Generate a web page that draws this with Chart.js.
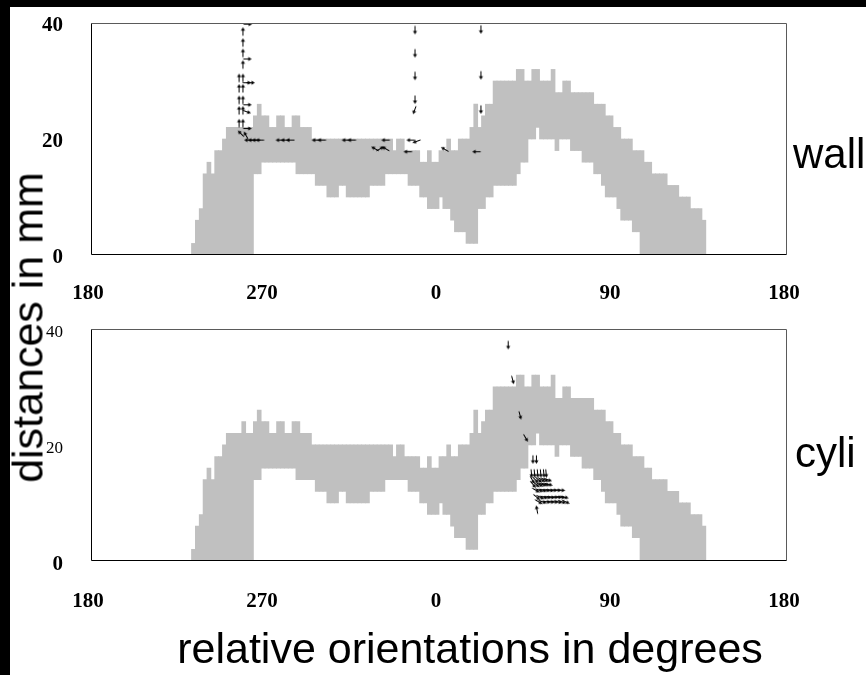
<!DOCTYPE html>
<html><head><meta charset="utf-8">
<script src="https://cdn.jsdelivr.net/npm/chart.js@4.4.1/dist/chart.umd.min.js"></script>
<style>
html,body{margin:0;padding:0;background:#fff;width:866px;height:675px;overflow:hidden;position:relative;}
.strip{position:absolute;background:#000;}
.lbl{position:absolute;font-family:"Liberation Sans",Arial,sans-serif;font-size:42px;line-height:1;white-space:nowrap;color:#000;}
canvas{position:absolute;left:0;}
</style></head><body>
<div class="strip" style="left:0;top:0;width:866px;height:7px"></div>
<div class="strip" style="left:0;top:0;width:10px;height:675px"></div>
<canvas id="c1" width="866" height="310" style="top:0;width:866px;height:310px"></canvas>
<canvas id="c2" width="866" height="365" style="top:310px;width:866px;height:365px"></canvas>
<div class="lbl" style="left:-171.9px;top:306px;width:400px;height:43px;font-size:43px;text-align:center;transform:rotate(-90deg)">distances in mm</div>
<div class="lbl" style="left:70px;top:626.5px;width:800px;font-size:43px;text-align:center">relative orientations in degrees</div>
<div class="lbl" style="left:793px;top:133px">wall</div>
<div class="lbl" style="left:795px;top:431.5px">cyli</div>
<script>
// ---- data ----
const xTickValues = [-180, -90, 0, 90, 180];
const xTickLabels = ['180', '270', '0', '90', '180'];
const yTickValues = [0, 20, 40];

const bandAngles = [
 -127,-125,-123,-121,-119,-117,-115,-113,-111,-109,
 -107,-105,-103,-101,-99,-97,-95,-93,-91,-89,
 -87,-85,-83,-81,-79,-77,-75,-73,-71,-69,
 -67,-65,-63,-61,-59,-57,-55,-53,-51,-49,
 -47,-45,-43,-41,-39,-37,-35,-33,-31,-29,
 -27,-25,-23,-21,-19,-17,-15,-13,-11,-9,
 -7,-5,-3,-1,1,3,5,7,9,11,
 13,15,17,19,21,23,25,27,29,31,
 33,35,37,39,41,43,45,47,49,51,
 53,55,57,59,61,63,65,67,69,71,
 73,75,77,79,81,83,85,87,89,91,
 93,95,97,99,101,103,105,107,109,111,
 113,115,117,119,121,123,125,127,129,131,
 133,135,137];

const wallHigh = [
 2,6,8,14,16,14,18,18,20,22,
 22,22,22,22,22,22,24,26,24,24,
 22,22,24,24,22,22,24,24,22,22,
 22,20,20,20,20,20,20,20,20,20,
 20,20,20,20,20,20,20,20,20,20,
 20,20,18,20,20,18,18,18,18,16,
 16,18,16,16,18,18,20,18,18,20,
 20,20,22,26,22,24,26,26,30,30,
 30,30,30,30,32,32,30,30,32,32,
 30,30,30,32,28,28,30,30,28,28,
 28,28,28,28,26,26,26,24,24,22,
 22,20,20,20,18,18,18,16,16,14,
 14,14,14,12,12,12,10,10,10,8,
 8,8,6];
const wallLow = [
 0,0,0,0,0,0,0,0,0,0,
 0,0,0,0,0,0,14,14,16,16,
 16,16,16,16,16,16,16,14,14,14,
 14,14,12,12,12,10,10,10,12,12,
 10,10,10,10,10,10,12,12,12,12,
 14,14,14,14,14,14,12,12,12,10,
 10,8,8,8,10,8,8,6,4,4,
 4,2,2,2,8,8,10,10,12,12,
 12,12,12,12,14,16,16,20,20,22,
 20,20,20,20,18,20,20,20,18,18,
 18,16,16,16,14,14,12,10,10,10,
 8,6,6,6,4,4,0,0,0,0,
 0,0,0,0,0,0,0,0,0,0,
 0,0,0];

const cylHigh = [
 2,6,8,14,16,14,18,18,20,22,
 22,22,22,24,22,22,24,26,24,24,
 22,22,24,24,22,22,24,24,22,22,
 22,20,20,20,20,20,20,20,20,20,
 20,20,20,20,20,20,20,20,20,20,
 20,20,18,20,20,18,18,18,18,16,
 16,18,16,16,18,18,20,18,18,20,
 20,20,22,26,22,24,26,26,30,30,
 30,30,30,30,32,32,30,30,32,32,
 30,30,30,32,28,28,30,30,28,28,
 28,28,28,28,26,26,26,24,24,22,
 22,20,20,20,18,18,18,16,16,14,
 14,14,14,12,12,12,10,10,10,8,
 8,8,6];
const cylLow = [
 0,0,0,0,0,0,0,0,0,0,
 0,0,0,0,0,0,14,14,16,16,
 16,16,16,16,16,16,16,14,14,14,
 14,14,12,12,12,10,10,10,12,12,
 10,10,10,10,10,10,12,12,12,12,
 14,14,14,14,14,14,12,12,12,10,
 10,8,8,8,10,8,8,6,4,4,
 4,2,2,2,8,8,10,10,12,12,
 12,12,12,12,14,16,16,20,20,22,
 20,20,20,20,18,20,20,20,18,18,
 18,16,16,16,14,14,12,10,10,10,
 8,6,6,6,4,4,0,0,0,0,
 0,0,0,0,0,0,0,0,0,0,
 0,0,0];

// arrows: angle (deg), distance (mm), pointing direction (deg, counter-clockwise from right)
const wallArrowX = [
 -99,-101.4,-101.4,-101.4,-99.2,-101.4,-103.4,-101.4,-99.5,-97.5,
 -103.4,-101.4,-103.4,-101.4,-99.2,-103.4,-101.4,-99.5,-103.4,-101.4,
 -99.2,-102.4,-99.8,
 -98.5,-96.5,-94.5,-92.5,-82.2,-79.5,-76.8,-63.5,-60.5,-48,-45,-27.5,-14.5,-11.5,
 -33,-30.5,-27.5,-16,
 -12.4,-12.4,-12.4,-12.4,-12.6,
 21.7,21.7,21.7,
 3.1,19.5];
const wallArrowY = [
 39.8,38.5,36.6,34.8,33.8,32.8,30.5,30.5,29.7,29.7,
 28.7,28.7,26.7,26.7,25.9,24.9,24.9,24.7,22.7,22.7,
 21.8,20.9,20.6,
 19.8,19.8,19.8,19.8,19.8,19.8,19.8,19.8,19.8,19.8,19.8,19.8,19.8,19.6,
 18.3,18.3,18.3,17.8,
 38.8,34.8,30.9,26.8,25.0,
 38.9,31.0,25.1,
 18.2,17.8];
const wallArrowDir = [
 0,90,90,90,0,90,90,90,0,0,
 90,90,90,90,0,90,90,-20,90,90,
 0,135,120,
 180,180,180,180,180,180,180,180,180,180,180,180,180,200,
 150,30,150,180,
 270,270,270,270,250,
 270,270,270,
 150,180];

const cylArrowX = [
 35.8,38.1,41.9,44.8,
 48.6,50.4,
 47.8,49.4,51,52.6,54.2,55.4,
 48.2,49.8,51.4,53,54.6,56.2,
 48.6,50.2,51.8,53.4,55,56.6,
 50,51.8,53.6,55.4,57.2,59,61,63,
 50.5,52.3,54.1,55.9,57.7,59.5,61.3,63.1,64.8,
 51.5,53.5,55.5,57.5,59.5,61.5,63.5,65.5,
 50.7];
const cylArrowY = [
 37.2,31.2,25.1,21.2,
 17.5,17.5,
 15.1,15.1,15.1,15.1,15.1,15.1,
 14,14,14,14,14,14,
 13.2,13.2,13.2,13.2,13.2,13.2,
 12.2,12.2,12.2,12.2,12.2,12.2,12.2,12.2,
 11,11,11,11,11,11,11,11,11,
 10.2,10.2,10.2,10.2,10.2,10.2,10.2,10.2,
 8.8];
const cylArrowDir = [
 270,285,285,300,
 270,270,
 275,275,275,275,275,275,
 300,315,320,330,335,340,
 310,320,330,340,345,345,
 330,340,345,350,350,355,355,355,
 320,335,345,350,350,355,355,350,345,
 330,340,350,350,350,345,340,335,
 100];

// ---- rendering ----
function makeArrow(){
  const c = document.createElement('canvas'); c.width = 11; c.height = 11;
  const g = c.getContext('2d');
  g.strokeStyle = '#000'; g.fillStyle = '#000'; g.lineWidth = 1;
  g.beginPath(); g.moveTo(1.5, 5.5); g.lineTo(8, 5.5); g.stroke();
  g.beginPath(); g.moveTo(10, 5.5); g.lineTo(6.5, 3.5); g.lineTo(6.5, 7.5); g.closePath(); g.fill();
  return c;
}
const arrowImg = makeArrow();

const framePlugin = {
  id: 'frame',
  afterDatasetsDraw(chart){
    const {ctx, chartArea: a} = chart;
    const l = Math.round(a.left) + 0.5, r = Math.round(a.right) - 0.5,
          t = Math.round(a.top) + 0.5, b = Math.round(a.bottom) - 0.5;
    ctx.save(); ctx.lineWidth = 1;
    ctx.strokeStyle = '#5a5a5a';
    ctx.beginPath(); ctx.moveTo(l, t); ctx.lineTo(r, t); ctx.lineTo(r, b); ctx.stroke();
    ctx.strokeStyle = '#000';
    ctx.beginPath(); ctx.moveTo(l, t); ctx.lineTo(l, b); ctx.lineTo(r, b); ctx.stroke();
    ctx.restore();
  }
};

const serifBold = {family: '"Liberation Serif","Times New Roman",serif', size: 21, weight: 'bold'};
const serifSmall = {family: '"Liberation Serif","Times New Roman",serif', size: 17, weight: 'normal'};

function makeChart(id, lows, highs, ax, ay, adir, cfg){
  const band = bandAngles.map((x, i) => ({x, y: [lows[i], highs[i]]}));
  const arrows = ax.map((x, i) => ({x, y: ay[i]}));
  return new Chart(document.getElementById(id), {
    type: 'bar',
    data: {datasets: [
      {type: 'scatter', data: arrows, pointStyle: arrowImg, pointRadius: 5,
       pointRotation: adir.map(d => -d), order: 0},
      {type: 'bar', data: band, backgroundColor: '#c0c0c0', borderWidth: 0,
       barThickness: 4, order: 1}
    ]},
    options: {
      responsive: false, animation: false, devicePixelRatio: 1,
      layout: {padding: {left: 0, right: 79, top: cfg.top, bottom: 0}},
      plugins: {legend: {display: false}, tooltip: {enabled: false}},
      scales: {
        x: {type: 'linear', min: -180, max: 180, offset: false,
            grid: {display: false, drawTicks: false}, border: {display: false},
            afterFit: s => { s.height = cfg.xh; s.paddingLeft = 0; s.paddingRight = 0; },
            afterBuildTicks: s => { s.ticks = xTickValues.map(v => ({value: v})); },
            ticks: {padding: cfg.xpad, labelOffset: -3, maxRotation: 0, autoSkip: false,
                    color: '#000', font: serifBold,
                    callback: (v, i) => xTickLabels[i]}},
        y: {type: 'linear', min: 0, max: 40,
            grid: {display: false, drawTicks: false}, border: {display: false},
            afterFit: s => { s.width = 91; s.paddingTop = 0; s.paddingBottom = 0; },
            afterBuildTicks: s => { s.ticks = yTickValues.map(v => ({value: v})); },
            ticks: {padding: 28, labelOffset: cfg.yoff, color: '#000',
                    font: ctx => (cfg.smallY && ctx.tick && ctx.tick.value > 0) ? serifSmall : serifBold,
                    callback: v => String(v)}}
      }
    },
    plugins: [framePlugin]
  });
}

makeChart('c1', wallLow, wallHigh, wallArrowX, wallArrowY, wallArrowDir,
  {top: 23, xh: 55, xpad: 26, yoff: 2.5, smallY: false});
makeChart('c2', cylLow, cylHigh, cylArrowX, cylArrowY, cylArrowDir,
  {top: 18.7, xh: 114, xpad: 28, yoff: 4, smallY: true});
</script>
</body></html>
